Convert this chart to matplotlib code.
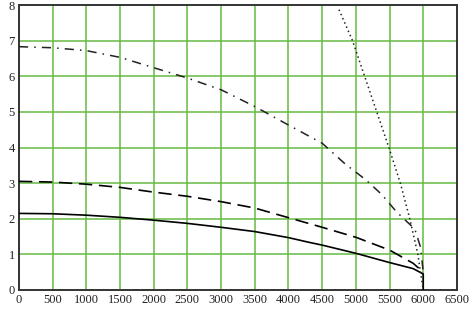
import numpy as np
import matplotlib
matplotlib.use('Agg')
import matplotlib.pyplot as plt

# Values
q_solid = [0, 500, 1000, 1500, 2000, 2500, 3000, 3500, 4000, 4300, 4500, 5000, 5500, 5850, 6000, 6000]
h_solid = [2.15, 2.14, 2.1, 2.04, 1.96, 1.87, 1.76, 1.64, 1.47, 1.34, 1.26, 1.03, 0.77, 0.6, 0.45, 0.0]

q_dash = [0, 500, 1000, 1500, 1950, 2500, 3000, 3500, 4000, 4500, 5000, 5500, 5850, 6000]
h_dash = [3.05, 3.03, 2.97, 2.88, 2.76, 2.63, 2.48, 2.3, 2.03, 1.76, 1.48, 1.12, 0.75, 0.5]

q_dashdot = [0, 500, 1000, 1500, 2000, 2500, 3000, 3500, 4000, 4500, 4840, 5150, 5390, 5600, 5875, 5960, 6000]
h_dashdot = [6.83, 6.8, 6.72, 6.53, 6.24, 5.95, 5.62, 5.15, 4.63, 4.12, 3.54, 3.09, 2.67, 2.2, 1.71, 1.2, 0.5]

q_dot = [4750, 4950, 5130, 5310, 5490, 5660, 5800, 5920, 6000]
h_dot = [7.87, 7.0, 6.0, 5.0, 4.0, 3.0, 2.0, 1.0, 0.0]

x_ticks = np.arange(0, 6501, 500)
y_ticks = np.arange(0, 9, 1)

fig = plt.figure(figsize=(4.74, 3.13), dpi=100)
ax = fig.add_axes([0.040, 0.0735, 0.924, 0.9105])

grid_green = '#66bb44'
for x in x_ticks[1:-1]:
	ax.axvline(x, color=grid_green, lw=1.1, zorder=1)
for y in y_ticks[1:-1]:
	ax.axhline(y, color=grid_green, lw=1.1, zorder=1)

ax.plot(q_solid, h_solid, '-', color='black', lw=1.2, zorder=3)
ax.plot(q_dash, h_dash, color='black', lw=1.2, dashes=(8, 4), zorder=3)
ax.plot(q_dashdot, h_dashdot, color='#222222', lw=1.1,
        dashes=(6, 4, 1, 4), zorder=3)
ax.plot(q_dot, h_dot, color='#222222', lw=1.1, dashes=(1, 2), zorder=3)

ax.set_xlim(0, 6500)
ax.set_ylim(0, 8)
ax.set_xticks(x_ticks)
ax.set_yticks(y_ticks)
ax.tick_params(length=0, pad=3, labelsize=9)
for lab in ax.get_xticklabels() + ax.get_yticklabels():
	lab.set_family('Liberation Serif')
	lab.set_color('#222222')

for side in ax.spines.values():
	side.set_linewidth(1.4)
	side.set_color('#333333')

fig.savefig('out.png', dpi=100)
